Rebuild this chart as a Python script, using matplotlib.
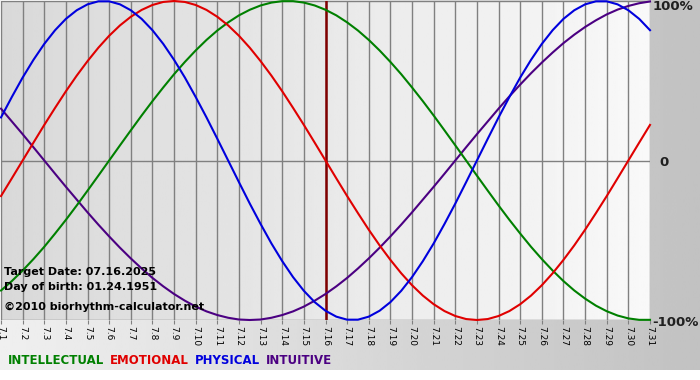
import numpy as np
import matplotlib
matplotlib.use("Agg")
import matplotlib.pyplot as plt

# days of July shown on the x axis
days = list(range(1, 32))
day_labels = ["7.%d" % d for d in days]

# curves every half day, from 7.1 to 7.31 (-1 .. 1)
half_days = [1 + 0.5 * i for i in range(61)]
physical = [0.270, 0.398, 0.520, 0.631, 0.731, 0.817, 0.888, 0.942, 0.979, 0.998,
            0.998, 0.979, 0.942, 0.888, 0.817, 0.731, 0.631, 0.520, 0.398, 0.270,
            0.136, 0.000, -0.136, -0.270, -0.398, -0.520, -0.631, -0.731, -0.817, -0.888,
            -0.942, -0.979, -0.998, -0.998, -0.979, -0.942, -0.888, -0.817, -0.731, -0.631,
            -0.520, -0.398, -0.270, -0.136, 0.000, 0.136, 0.270, 0.398, 0.520, 0.631,
            0.731, 0.817, 0.888, 0.942, 0.979, 0.998, 0.998, 0.979, 0.942, 0.888, 0.817]
emotional = [-0.223, -0.112, 0.000, 0.112, 0.223, 0.330, 0.434, 0.532, 0.623, 0.707,
             0.782, 0.847, 0.901, 0.944, 0.975, 0.994, 1.000, 0.994, 0.975, 0.944,
             0.901, 0.847, 0.782, 0.707, 0.623, 0.532, 0.434, 0.330, 0.223, 0.112,
             0.000, -0.112, -0.223, -0.330, -0.434, -0.532, -0.623, -0.707, -0.782, -0.847,
             -0.901, -0.944, -0.975, -0.994, -1.000, -0.994, -0.975, -0.944, -0.901, -0.847,
             -0.782, -0.707, -0.623, -0.532, -0.434, -0.330, -0.223, -0.112, 0.000, 0.112, 0.223]
intellectual = [-0.815, -0.756, -0.690, -0.618, -0.541, -0.458, -0.372, -0.282, -0.189, -0.095,
                0.000, 0.095, 0.189, 0.282, 0.372, 0.458, 0.541, 0.618, 0.690, 0.756,
                0.815, 0.866, 0.910, 0.945, 0.972, 0.990, 0.999, 0.999, 0.990, 0.972,
                0.945, 0.910, 0.866, 0.815, 0.756, 0.690, 0.618, 0.541, 0.458, 0.372,
                0.282, 0.189, 0.095, 0.000, -0.095, -0.189, -0.282, -0.372, -0.458, -0.541,
                -0.618, -0.690, -0.756, -0.815, -0.866, -0.910, -0.945, -0.972, -0.990, -0.999, -0.999]
intuitive = [0.325, 0.245, 0.165, 0.083, 0.000, -0.083, -0.165, -0.245, -0.325, -0.402,
             -0.476, -0.547, -0.614, -0.677, -0.736, -0.789, -0.837, -0.879, -0.916, -0.946,
             -0.969, -0.986, -0.997, -1.000, -0.997, -0.986, -0.969, -0.946, -0.916, -0.879,
             -0.837, -0.789, -0.736, -0.677, -0.614, -0.547, -0.476, -0.402, -0.325, -0.245,
             -0.165, -0.083, 0.000, 0.083, 0.165, 0.245, 0.325, 0.402, 0.476, 0.547,
             0.614, 0.677, 0.736, 0.789, 0.837, 0.879, 0.916, 0.946, 0.969, 0.986, 0.997]
target_day = 16

fig = plt.figure(figsize=(7, 3.8), dpi=100, facecolor="white")

# background of the whole picture (light left -> gray right)
bg = fig.add_axes([0, 10/380, 1, 370/380], zorder=-5)
grad = np.linspace(0.94, 0.76, 256).reshape(1, -1)
bg.imshow(grad, aspect="auto", cmap="gray", vmin=0, vmax=1, extent=[0, 1, 0, 1])
bg.axis("off")

ax = fig.add_axes([1/700, 60/380, 649/700, 319/380])
ax.set_xlim(1, 31)
ax.set_ylim(-1, 1)
ax.set_facecolor("none")

# plot area gradient (darker left -> lighter right)
pg = np.linspace(0.85, 0.975, 256).reshape(1, -1)
ax.imshow(pg, aspect="auto", cmap="gray", vmin=0, vmax=1,
          extent=[1, 31, -1, 1], zorder=0)

for d in days:
    ax.axvline(d, color="#808080", lw=1, zorder=1)
ax.axhline(0, color="#808080", lw=1, zorder=1)
ax.axhline(1, color="#808080", lw=1, zorder=1)
ax.axhline(-1, color="#808080", lw=1, zorder=1)

ax.axvline(target_day, color="#800000", lw=1.8, zorder=2)

ax.plot(half_days, intuitive, color="#4b0082", lw=1.5, zorder=3, clip_on=False)
ax.plot(half_days, intellectual, color="#008000", lw=1.5, zorder=3, clip_on=False)
ax.plot(half_days, emotional, color="#e00000", lw=1.5, zorder=3, clip_on=False)
ax.plot(half_days, physical, color="#0000dd", lw=1.5, zorder=3, clip_on=False)

for s in ax.spines.values():
    s.set_visible(False)
ax.set_xticks(days)
ax.set_xticklabels(day_labels, rotation=270, fontsize=6.5)
ax.tick_params(axis="x", length=3, color="#808080", pad=1)
ax.set_yticks([])

# info text
ax.text(0.004, 0.15, "Target Date: 07.16.2025", transform=ax.transAxes,
        fontsize=8, fontweight="bold", va="center", zorder=4)
ax.text(0.004, 0.103, "Day of birth: 01.24.1951", transform=ax.transAxes,
        fontsize=8, fontweight="bold", va="center", zorder=4)
ax.text(0.004, 0.04, "\u00a92010 biorhythm-calculator.net", transform=ax.transAxes,
        fontsize=8, fontweight="bold", va="center", zorder=4)

# right side labels
fig.text(653/700, 1 - 7/380, "100%", fontsize=9.5, fontweight="bold", color="#202020", va="center")
fig.text(659/700, 1 - 162/380, "0", fontsize=9.5, fontweight="bold", color="#202020", va="center")
fig.text(652/700, 1 - 322/380, "-100%", fontsize=9.5, fontweight="bold", color="#202020", va="center")

# legend row
y_leg = 1 - 361/380
x = 8 / 700
for name, col in [("INTELLECTUAL", "#008000"), ("EMOTIONAL", "#e00000"),
                  ("PHYSICAL", "#0000dd"), ("INTUITIVE", "#4b0082")]:
    t = fig.text(x, y_leg, name, fontsize=8.5, fontweight="bold", color=col, va="center")
    fig.canvas.draw()
    bb = t.get_window_extent()
    x = (bb.x1 + 6) / 700

fig.savefig("out.png", dpi=100, facecolor="white")
